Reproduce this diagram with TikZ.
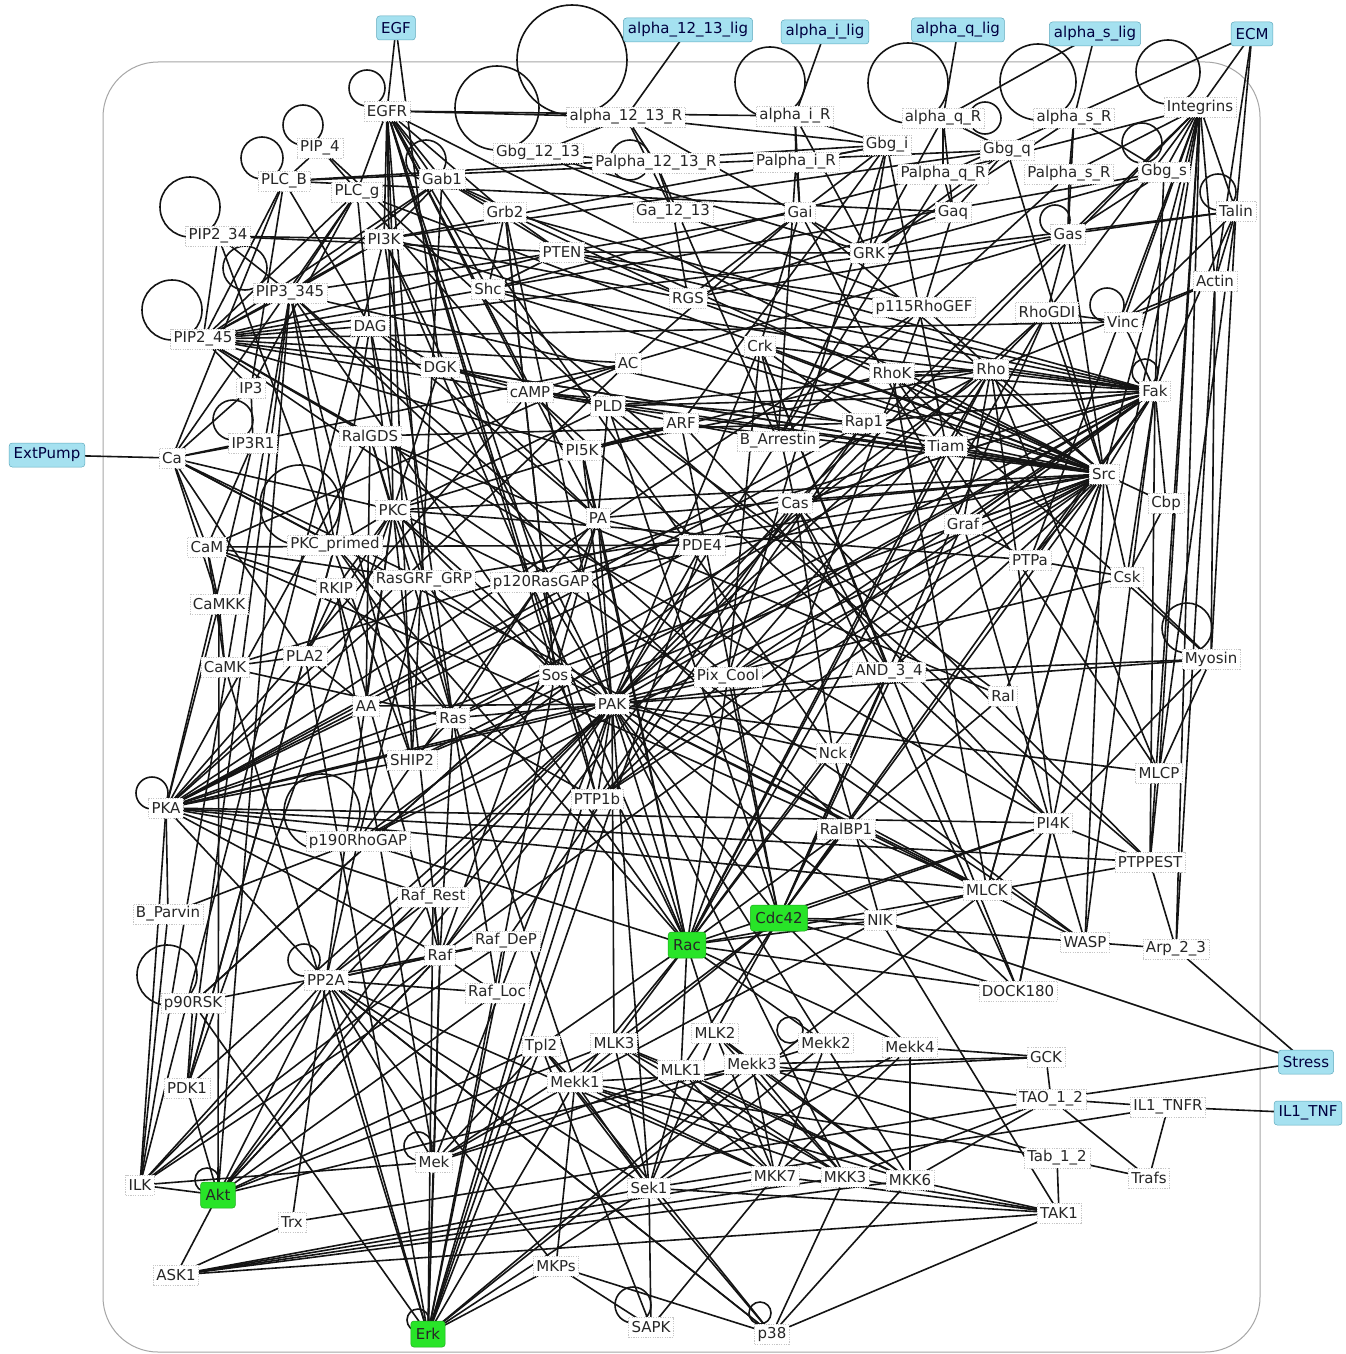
\documentclass[tikz,border=0pt]{standalone}
\usepackage{fontspec}
\setmainfont{DejaVu Sans}
\pgfdeclarelayer{back}
\pgfdeclarelayer{bg}
\pgfsetlayers{back,bg,main}
\definecolor{inpc}{RGB}{165,225,240}
\definecolor{inpd}{RGB}{95,170,190}
\definecolor{grnc}{RGB}{40,228,40}
\definecolor{grnd}{RGB}{30,170,30}
\begin{document}
\begin{tikzpicture}[x=1pt,y=-1pt,
 nd/.style={draw=black!22, dash pattern=on 1.2pt off 1.2pt, line width=0.5pt, fill=white, text=black!85, font=\fontsize{15}{17}\selectfont, inner xsep=3pt, inner ysep=2pt, minimum height=20pt},
 inp/.style={nd, solid, draw=inpd, fill=inpc, rounded corners=3pt, minimum height=24pt, inner xsep=4.5pt, text=black!75!blue},
 grn/.style={nd, solid, draw=grnd, fill=grnc, rounded corners=3pt, minimum height=26pt, inner xsep=5pt},
 ed/.style={line width=1.6pt, black!92}]
\useasboundingbox (0,0) rectangle (1345,1354);
\begin{pgfonlayer}{back}
\fill[white] (0,0) rectangle (1345,1354);
\end{pgfonlayer}
% inputs
\node[inp] (EGF) at (396,28) {EGF};
\node[inp] (a1213lig) at (688,30) {alpha\_12\_13\_lig};
\node[inp] (ailig) at (825,32) {alpha\_i\_lig};
\node[inp] (aqlig) at (958,30) {alpha\_q\_lig};
\node[inp] (aslig) at (1095,34) {alpha\_s\_lig};
\node[inp] (ECM) at (1252,34) {ECM};
\node[inp] (ExtPump) at (47,455) {ExtPump};
\node[inp] (Stress) at (1306,1062) {Stress};
\node[inp] (ILTNF) at (1308,1113) {IL1\_TNF};
% outputs
\node[grn] (Cdc42) at (779,918) {Cdc42};
\node[grn] (Rac) at (687,945) {Rac};
\node[grn] (Akt) at (218,1195) {Akt};
\node[grn] (Erk) at (428,1334) {Erk};
% internal
\node[nd] (EGFR) at (387,111) {EGFR};
\node[nd] (a1213R) at (626,117) {alpha\_12\_13\_R};
\node[nd] (aiR) at (795,116) {alpha\_i\_R};
\node[nd] (aqR) at (943,118) {alpha\_q\_R};
\node[nd] (asR) at (1074,118) {alpha\_s\_R};
\node[nd] (Integrins) at (1200,107) {Integrins};
\node[nd] (PIP4) at (320,148) {PIP\_4};
\node[nd] (Gbg1213) at (538,153) {Gbg\_12\_13};
\node[nd] (Pa1213R) at (656,163) {Palpha\_12\_13\_R};
\node[nd] (PaiR) at (796,162) {Palpha\_i\_R};
\node[nd] (Gbgi) at (887,145) {Gbg\_i};
\node[nd] (Gbgq) at (1007,150) {Gbg\_q};
\node[nd] (PaqR) at (943,174) {Palpha\_q\_R};
\node[nd] (PasR) at (1069,174) {Palpha\_s\_R};
\node[nd] (Gbgs) at (1164,172) {Gbg\_s};
\node[nd] (PLCB) at (284,181) {PLC\_B};
\node[nd] (PLCg) at (357,192) {PLC\_g};
\node[nd] (Gab1) at (442,179) {Gab1};
\node[nd] (Grb2) at (505,212) {Grb2};
\node[nd] (Ga1213) at (673,212) {Ga\_12\_13};
\node[nd] (Gai) at (800,212) {Gai};
\node[nd] (Gaq) at (953,212) {Gaq};
\node[nd] (Talin) at (1236,211) {Talin};
\node[nd] (PIP234) at (218,236) {PIP2\_34};
\node[nd] (PI3K) at (384,239) {PI3K};
\node[nd] (PTEN) at (562,252) {PTEN};
\node[nd] (GRK) at (869,253) {GRK};
\node[nd] (Gas) at (1068,234) {Gas};
\node[nd] (Actin) at (1215,281) {Actin};
\node[nd] (PIP3) at (290,293) {PIP3\_345};
\node[nd] (Shc) at (488,289) {Shc};
\node[nd] (RGS) at (688,298) {RGS};
\node[nd] (p115) at (924,307) {p115RhoGEF};
\node[nd] (RhoGDI) at (1047,312) {RhoGDI};
\node[nd] (Vinc) at (1123,322) {Vinc};
\node[nd] (PIP245) at (203,339) {PIP2\_45};
\node[nd] (DAG) at (370,326) {DAG};
\node[nd] (DGK) at (440,367) {DGK};
\node[nd] (AC) at (628,363) {AC};
\node[nd] (Crk) at (760,346) {Crk};
\node[nd] (RhoK) at (892,373) {RhoK};
\node[nd] (Rho) at (991,369) {Rho};
\node[nd] (Fak) at (1155,391) {Fak};
\node[nd] (IP3) at (251,388) {IP3};
\node[nd] (cAMP) at (530,392) {cAMP};
\node[nd] (PLD) at (608,406) {PLD};
\node[nd] (ARF) at (681,423) {ARF};
\node[nd] (BArr) at (778,441) {B\_Arrestin};
\node[nd] (Rap1) at (864,423) {Rap1};
\node[nd] (PI5K) at (582,450) {PI5K};
\node[nd] (Tiam) at (946,446) {Tiam};
\node[nd] (RalGDS) at (370,436) {RalGDS};
\node[nd] (IP3R1) at (253,443) {IP3R1};
\node[nd] (Ca) at (172,458) {Ca};
\node[nd] (Src) at (1104,474) {Src};
\node[nd] (Cas) at (795,503) {Cas};
\node[nd] (Cbp) at (1166,503) {Cbp};
\node[nd] (PKC) at (393,510) {PKC};
\node[nd] (PA) at (598,518) {PA};
\node[nd] (Graf) at (963,524) {Graf};
\node[nd] (PDE4) at (702,545) {PDE4};
\node[nd] (CaM) at (207,547) {CaM};
\node[nd] (PKCp) at (335,545) {PKC\_primed};
\node[nd] (PTPa) at (1030,560) {PTPa};
\node[nd] (Csk) at (1127,577) {Csk};
\node[nd] (RKIP) at (336,588) {RKIP};
\node[nd] (RasGRF) at (424,580) {RasGRF\_GRP};
\node[nd] (p120) at (541,582) {p120RasGAP};
\node[nd] (CaMKK) at (219,604) {CaMKK};
\node[nd] (Myosin) at (1211,659) {Myosin};
\node[nd] (PLA2) at (305,656) {PLA2};
\node[nd] (CaMK) at (225,667) {CaMK};
\node[nd] (Sos) at (555,675) {Sos};
\node[nd] (PAK) at (612,704) {PAK};
\node[nd] (Pix) at (728,677) {Pix\_Cool};
\node[nd] (AND34) at (889,672) {AND\_3\_4};
\node[nd] (Ral) at (1003,696) {Ral};
\node[nd] (AA) at (366,706) {AA};
\node[nd] (Ras) at (453,718) {Ras};
\node[nd] (SHIP2) at (412,760) {SHIP2};
\node[nd] (Nck) at (833,753) {Nck};
\node[nd] (MLCP) at (1159,773) {MLCP};
\node[nd] (PKA) at (166,808) {PKA};
\node[nd] (PTP1b) at (597,799) {PTP1b};
\node[nd] (PI4K) at (1053,823) {PI4K};
\node[nd] (RalBP1) at (846,829) {RalBP1};
\node[nd] (p190) at (358,841) {p190RhoGAP};
\node[nd] (PTPPEST) at (1150,862) {PTPPEST};
\node[nd] (RafRest) at (433,897) {Raf\_Rest};
\node[nd] (MLCK) at (987,890) {MLCK};
\node[nd] (BParvin) at (168,914) {B\_Parvin};
\node[nd] (NIK) at (880,920) {NIK};
\node[nd] (RafDeP) at (506,941) {Raf\_DeP};
\node[nd] (WASP) at (1085,942) {WASP};
\node[nd] (Arp23) at (1176,949) {Arp\_2\_3};
\node[nd] (Raf) at (440,955) {Raf};
\node[nd] (PP2A) at (326,980) {PP2A};
\node[nd] (p90RSK) at (193,1003) {p90RSK};
\node[nd] (RafLoc) at (497,993) {Raf\_Loc};
\node[nd] (DOCK180) at (1018,991) {DOCK180};
\node[nd] (Tpl2) at (541,1046) {Tpl2};
\node[nd] (MLK3) at (614,1043) {MLK3};
\node[nd] (MLK2) at (715,1033) {MLK2};
\node[nd] (Mekk2) at (826,1043) {Mekk2};
\node[nd] (Mekk4) at (910,1047) {Mekk4};
\node[nd] (GCK) at (1046,1057) {GCK};
\node[nd] (MLK1) at (681,1070) {MLK1};
\node[nd] (Mekk3) at (752,1064) {Mekk3};
\node[nd] (Mekk1) at (575,1082) {Mekk1};
\node[nd] (PDK1) at (187,1088) {PDK1};
\node[nd] (TAO12) at (1051,1099) {TAO\_1\_2};
\node[nd] (ILTNFR) at (1168,1107) {IL1\_TNFR};
\node[nd] (Tab12) at (1057,1158) {Tab\_1\_2};
\node[nd] (Trafs) at (1149,1178) {Trafs};
\node[nd] (Mek) at (434,1162) {Mek};
\node[nd] (ILK) at (140,1185) {ILK};
\node[nd] (MKK7) at (775,1176) {MKK7};
\node[nd] (MKK3) at (845,1177) {MKK3};
\node[nd] (MKK6) at (910,1180) {MKK6};
\node[nd] (Sek1) at (649,1188) {Sek1};
\node[nd] (TAK1) at (1059,1213) {TAK1};
\node[nd] (Trx) at (292,1222) {Trx};
\node[nd] (ASK1) at (176,1275) {ASK1};
\node[nd] (MKPs) at (556,1266) {MKPs};
\node[nd] (SAPK) at (651,1327) {SAPK};
\node[nd] (p38) at (772,1334) {p38};

\begin{pgfonlayer}{bg}
\draw[black!35, line width=1pt, rounded corners=55pt] (103,62) rectangle (1260,1352);
% self loops
\foreach \x/\y/\r in {367/88/18, 303/125/20, 262/158/21, 190/207/30, 172/310/30, 426/160/20, 245/268/22,
  572/60/55, 497/108/42, 770/82/35, 908/83/40, 985/118/16, 1038/82/38, 1168/72/32, 1142/143/20,
  1218/192/18, 1055/220/15, 1107/305/17, 1145/372/13, 233/420/20, 300/505/40, 152/793/16,
  167/975/30, 304/960/16, 418/1146/14, 207/1180/12, 418/1320/11, 633/1305/18, 760/1313/11,
  790/1030/13, 1187/628/25, 630/160/20, 322/812/38}
  \draw[ed] (\x,\y) circle[radius=\r pt];
% edges
\foreach \a/\b in {EGF/EGFR, EGF/DGK, a1213lig/a1213R, ailig/aiR, aqlig/aqR, aslig/asR, aslig/aqR,
 ECM/Integrins, ECM/Talin, ECM/PaqR, ECM/Actin, ExtPump/Ca, Stress/TAO12, Stress/NIK, Stress/Arp23, ILTNF/ILTNFR,
 EGFR/a1213R, EGFR/aiR, a1213R/Gbgi, aiR/Gbgi, aqR/Gbgq, aqR/PaqR, asR/PasR, asR/Gbgs, aiR/PaiR,
 a1213R/Pa1213R, a1213R/Gbg1213, a1213R/Ga1213, aiR/Gai, aqR/Gaq, asR/Gas, Gbg1213/Pa1213R, PaiR/Gbgi,
 Pa1213R/Ga1213, PaiR/Gai, PaqR/Gaq, PasR/Gas, Gbgq/Gaq, Gbgs/Gas, Gbgi/Gai, Gbg1213/Ga1213,
 GRK/aiR, GRK/a1213R, GRK/aqR, GRK/asR, GRK/Gbgi, GRK/Gbgq, GRK/Gbgs, GRK/Gbg1213,
 BArr/Pa1213R, BArr/PaiR, BArr/PaqR, BArr/PasR, BArr/GRK,
 RGS/Ga1213, RGS/Gai, RGS/Gaq, RGS/Gas, p115/Ga1213, p115/Gaq, p115/Rho,
 AC/Gas, AC/Gai, AC/CaM, AC/PKA, AC/cAMP,
 PLCB/Gaq, PLCB/Gbgi, PLCB/Gbgq, PLCB/Ca, PLCB/PIP245, PLCB/DAG, PLCB/IP3, PI3K/Gbgi, PI3K/Gbgq,
 Integrins/Talin, Integrins/Fak, Integrins/Src, Integrins/Shc, Integrins/ILK, Integrins/Actin, Integrins/Vinc,
 Integrins/PasR, Integrins/RhoGDI, Integrins/Gbgs, Integrins/Cas,
 Talin/Vinc, Talin/Actin, Talin/Fak, Talin/PIP245, Talin/Gas, Actin/Vinc, Actin/Myosin, Actin/Arp23, Actin/Rho,
 Vinc/RhoGDI, Vinc/Fak,
 EGFR/PKC, EGFR/Sos, EGFR/SHIP2, EGFR/cAMP, EGFR/RasGRF, EGFR/PA, PKC/PAK, PKC/Sos, PKCp/Ras, RKIP/Ras,
 RasGRF/PAK, p120/PAK, Sos/PAK, AA/PAK, Ras/PTP1b, PA/PAK, PDE4/PAK, Cas/PAK, Crk/PAK, BArr/PAK}
  \draw[ed] (\a.center) -- (\b.center);
\foreach \a/\b in {PIP4/PI4K, PIP4/PI5K, PIP4/PLCB,
 PLCg/EGFR, PLCg/PIP245, PLCg/DAG, PLCg/IP3, PLCg/Src, PLCg/PIP3, PLCg/Ca,
 PIP234/PI3K, PIP234/SHIP2, PIP234/PIP3, PIP234/PIP245, PIP234/PTEN,
 PI3K/EGFR, PI3K/Gab1, PI3K/Ras, PI3K/Src, PI3K/Fak, PI3K/Rac, PI3K/PIP3, PI3K/PIP245,
 PIP3/PTEN, PIP3/SHIP2, PIP3/PIP245, PIP3/Akt, PIP3/PDK1, PIP3/ILK, PIP3/Tiam, PIP3/Gab1, PIP3/Pix,
 PIP3/PKCp, PIP3/DOCK180, PIP3/Sos,
 PIP245/PI5K, PIP245/PI4K, PIP245/PTEN, PIP245/DAG, PIP245/IP3, PIP245/WASP, PIP245/PLD, PIP245/Vinc,
 PIP245/DGK, PIP245/Gab1, PIP245/RalGDS, PIP245/AC, PIP245/Shc,
 DAG/DGK, DAG/PKC, DAG/PKCp, DAG/RasGRF, DAG/PA, DGK/PA, DGK/Src, DGK/PLD,
 IP3/IP3R1, IP3/Ca, IP3R1/Ca, IP3R1/PKA, IP3R1/CaM,
 Ca/CaM, Ca/PKC, Ca/RasGRF, Ca/PLA2, Ca/PKCp, Ca/AC, Ca/MLCK, Ca/CaMKK,
 CaM/CaMKK, CaM/CaMK, CaM/MLCK, CaM/RasGRF, CaM/PDE4, CaM/RKIP,
 CaMKK/CaMK, CaMKK/Akt, CaMKK/PKA, CaMK/PLA2, CaMK/Erk, CaMK/Ras,
 PKC/PKCp, PKC/RKIP, PKC/Raf, PKC/RasGRF, PKC/PLD, PKC/p120, PKC/Src, PKC/PDK1, PKC/PLA2, PKC/DGK,
 PKC/ARF, PKC/RalGDS, PKCp/PDK1, PKCp/Rac, RKIP/Raf, RKIP/Mek, RKIP/PLA2,
 RasGRF/Ras, RasGRF/Src, RasGRF/Rac, p120/Ras, p120/Src, p120/p190, p120/EGFR, p120/PA, p120/Fak,
 PLA2/AA, PLA2/Erk, AA/PKC, AA/PKA, AA/RalGDS,
 Gab1/Grb2, Gab1/EGFR, Gab1/SHIP2, Gab1/Src, Gab1/PTEN,
 Grb2/Shc, Grb2/Sos, Grb2/EGFR, Grb2/Fak, Grb2/PTEN, Grb2/RGS,
 Shc/Src, Shc/Fak, Shc/EGFR, Shc/PTPPEST, Shc/Gbgs,
 PTEN/Fak, PTEN/Shc, PTEN/GRK, PTEN/p115, PTEN/Gai}
  \draw[ed] (\a.center) -- (\b.center);
\foreach \a/\b in {Sos/Ras, Sos/Erk, Sos/p90RSK, Sos/Rac, Sos/Grb2,
 Ras/Raf, Ras/RalGDS, Ras/Tiam, Ras/RafLoc, Ras/Mekk1, Ras/SHIP2, Ras/PAK,
 RalGDS/Ral, RalGDS/Rap1, RalGDS/PKA, Ral/RalBP1, Ral/PLD, Ral/Src, RalBP1/Cdc42, RalBP1/Rac,
 SHIP2/Fak, SHIP2/Src, cAMP/PDE4, cAMP/PKA, cAMP/Rap1, cAMP/DGK, PDE4/PKA, PDE4/Erk,
 PKA/Raf, PKA/RafRest, PKA/p190, PKA/Rap1, PKA/Src, PKA/PAK, PKA/Rho, PKA/MLCK, PKA/PI4K, PKA/RasGRF,
 PKA/SHIP2, PKA/BParvin, PKA/ILK, PKA/PP2A, PKA/Ras, PKA/PTPPEST,
 PLD/PA, PLD/ARF, PLD/Rho, PLD/Cdc42, PLD/Fak, PA/PI5K, PA/Raf, PA/PDE4, PA/Sos, PA/Rac,
 ARF/PI5K, ARF/BArr, ARF/Gbgi, ARF/Src, PI5K/Rho, PI5K/RhoK, PI5K/Rac, PI5K/PAK,
 Rho/p190, Rho/RhoGDI, Rho/Graf, Rho/RhoK, Rho/Src, Rho/Fak, Rho/Tiam, Rho/Pix, Rho/Rac, Rho/PI4K,
 RhoK/MLCP, RhoK/MLCK, RhoK/PTEN, RhoK/Myosin, RhoK/Fak, RhoK/Src,
 RhoGDI/Rac, RhoGDI/Cdc42, RhoGDI/PAK, RhoGDI/Src, RhoGDI/Gas, p115/Rac, p115/PKA,
 p190/Src, p190/Rac, p190/RasGRF, Graf/Cdc42, Graf/Fak, Graf/Src, Graf/Gai,
 Tiam/Rac, Tiam/Src, Tiam/CaMK, Tiam/Gbgi,
 Crk/Cas, Crk/DOCK180, Crk/Rap1, Crk/Pix, Crk/Fak, Crk/Src, Crk/Gai, Rap1/Raf, Rap1/Src, Rap1/Fak,
 Cas/Fak, Cas/Src, Cas/PTPPEST, Cas/Nck, Cas/DOCK180, Cas/PTP1b,
 Fak/Src, Fak/PTPPEST, Fak/Graf, Fak/p190, Fak/Gbgs, Fak/Rap1, Fak/PAK, Fak/Tiam,
 Src/Csk, Src/Cbp, Src/PTPa, Src/EGFR, Src/Gas, Src/Gai, Src/PTP1b, Src/Raf, Src/Pix, Src/WASP, Src/MLCK,
 Src/DGK, Src/RhoK, Src/PA, Src/cAMP, Src/PLD, Src/Gbgq,
 Csk/Cbp, Csk/PTPa, Csk/Fak, Csk/Myosin, Csk/PKA, Cbp/Fak,
 PTPa/Integrins, PTPa/PKC, PTPa/Fak, PTPa/Graf, PTP1b/EGFR, PTP1b/Fak, PTP1b/p120, PTP1b/Pix, PTP1b/PAK}
  \draw[ed] (\a.center) -- (\b.center);
\foreach \a/\b in {PTPPEST/Arp23, PTPPEST/MLCP, PTPPEST/Integrins, PTPPEST/Rac, PTPPEST/PI4K,
 Myosin/MLCK, Myosin/MLCP, Myosin/PAK, Myosin/AND34, Myosin/Talin, MLCK/Erk, MLCK/PAK, MLCK/Src,
 MLCP/Integrins, MLCP/Talin, MLCP/PAK, MLCP/Rho, PI4K/ARF, PI4K/Rac, PI4K/DOCK180, PI4K/Cdc42,
 WASP/Cdc42, WASP/Nck, WASP/Arp23, WASP/Fak, WASP/Graf, WASP/PAK, Arp23/Integrins,
 Nck/PAK, Nck/NIK, Nck/EGFR, Nck/Rac, NIK/Cdc42, NIK/Rac, NIK/MLCK, NIK/PAK, NIK/Mekk1,
 DOCK180/Rac, DOCK180/Integrins, DOCK180/Cdc42, Pix/PAK, Pix/Cdc42, Pix/Rac, Pix/Gbgi, Pix/Fak,
 AND34/Rac, AND34/Cas, AND34/Crk, AND34/Src, AND34/Cdc42, AND34/PAK,
 PAK/Rac, PAK/Cdc42, PAK/Akt, PAK/Mek, PAK/Raf, PAK/Sek1, PAK/MLK3, PAK/PI3K, PAK/Grb2, PAK/PP2A,
 PAK/Erk, PAK/MKK3, PAK/MKK6,
 Rac/Mekk1, Rac/MLK2, Rac/MLK3, Rac/Mekk4, Rac/MLK1, Rac/Mekk2, Rac/Tpl2,
 Cdc42/MLK3, Cdc42/MLK2, Cdc42/Mekk1, Cdc42/Mekk4, Cdc42/Src, Cdc42/Fak, Cdc42/MLK1, Cdc42/ARF,
 Raf/RafLoc, Raf/RafDeP, Raf/RafRest, Raf/Mek, Raf/Akt, Raf/PP2A, RafLoc/PP2A, RafLoc/RafDeP,
 RafDeP/PP2A, RafDeP/Rap1, RafRest/Akt, RafRest/Erk, RafRest/PP2A,
 Mek/Erk, Mek/Mekk1, Mek/Tpl2, Mek/MLK3, Mek/PP2A, Mek/Mekk2, Mek/MLK1,
 Erk/MKPs, Erk/PP2A, Erk/p90RSK, Erk/Raf, Erk/PTP1b, Erk/Tpl2, Erk/Mekk1, Erk/Sek1, Erk/RafLoc, Erk/Mekk3,
 p90RSK/PDK1, p90RSK/Sos, p90RSK/RafDeP, PDK1/Akt, PDK1/PKCp, PDK1/PAK,
 Akt/ILK, Akt/PP2A, Akt/ASK1, Akt/MLK3, Akt/Mekk3, Akt/Tpl2, Akt/RafLoc, Akt/Raf,
 ILK/BParvin, ILK/PP2A, ILK/Mek, ILK/Raf, ILK/RafDeP, ILK/PI3K, BParvin/p190,
 PP2A/p190, PP2A/PKC, PP2A/Sek1, PP2A/MKK7, PP2A/p38,
 Trx/ASK1, Trx/TAO12, Trx/PP2A, ASK1/MKK3, ASK1/MKK6, ASK1/Sek1, ASK1/MKK7, ASK1/TAK1,
 MKPs/SAPK, MKPs/p38, MKPs/Mekk1, MKPs/PP2A, SAPK/Sek1, SAPK/MKK7, SAPK/Tpl2,
 p38/MKK3, p38/MKK6, p38/Sek1, p38/Tpl2, p38/TAK1, p38/PP2A,
 Sek1/Mekk1, Sek1/MLK3, Sek1/MLK2, Sek1/MLK1, Sek1/Mekk4, Sek1/Mekk2, Sek1/Tpl2, Sek1/TAK1, Sek1/ILTNFR,
 MKK7/Mekk1, MKK7/MLK3, MKK7/MLK2, MKK7/MLK1, MKK7/Mekk2, MKK7/Mekk4, MKK7/TAK1, MKK7/Mekk3,
 MKK3/MLK3, MKK3/MLK2, MKK3/MLK1, MKK3/Mekk3, MKK3/TAK1, MKK3/TAO12, MKK3/Mekk1,
 MKK6/MLK3, MKK6/MLK2, MKK6/MLK1, MKK6/TAK1, MKK6/TAO12, MKK6/Mekk4, MKK6/Mekk1, MKK6/Mekk3,
 Mekk1/GCK, Mekk1/Tpl2, Mekk4/GCK, Mekk3/GCK, Mekk3/TAO12, Mekk3/Tab12, Mekk1/Tab12,
 TAO12/ILTNFR, TAO12/Trafs, TAO12/GCK, TAK1/Tab12, TAK1/NIK, Tab12/Trafs, ILTNFR/Trafs,
 MLK3/MLK1, MLK2/Mekk3}
  \draw[ed] (\a.center) -- (\b.center);
\end{pgfonlayer}
\end{tikzpicture}
\end{document}
